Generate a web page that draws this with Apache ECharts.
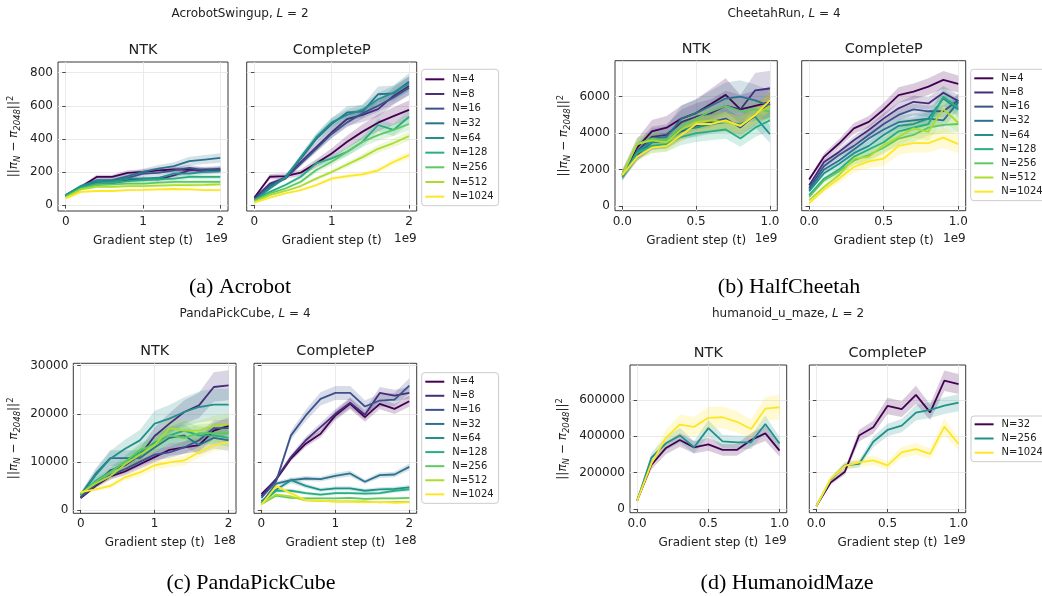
<!DOCTYPE html>
<html><head><meta charset="utf-8">
<script src="https://cdn.jsdelivr.net/npm/echarts@6/dist/echarts.min.js"></script>
<style>html,body{margin:0;padding:0;background:#fff}#c{width:1042px;height:596px}</style>
</head><body><div id="c"></div><script>
// ---------------- DATA ----------------
const labelsN9 = ['N=4','N=8','N=16','N=32','N=64','N=128','N=256','N=512','N=1024'];
const labelsN3 = ['N=32','N=256','N=1024'];

const stepsAcrobot = [0,0.2,0.4,0.6,0.8,1.0,1.2,1.4,1.6,1.8,2.0];   // x 1e9
const stepsCheetah = [0,0.1,0.2,0.3,0.4,0.5,0.6,0.7,0.8,0.9,1.0];   // x 1e9
const stepsPanda   = [0,0.2,0.4,0.6,0.8,1.0,1.2,1.4,1.6,1.8,2.0];   // x 1e8
const stepsHumanoid= [0,0.1,0.2,0.3,0.4,0.5,0.6,0.7,0.8,0.9,1.0];   // x 1e9

const acrobotNTK = [
  [55,110,170,170,195,200,210,215,215,205,210],
  [50,105,130,130,150,160,155,180,210,215,215],
  [55,110,140,145,165,190,195,210,225,210,220],
  [60,115,150,150,175,200,220,235,265,275,285],
  [60,115,145,145,160,160,165,190,190,200,205],
  [55,105,130,135,145,150,155,160,170,170,170],
  [50,100,120,125,130,130,135,140,140,140,140],
  [45,95,110,110,115,115,118,120,120,122,125],
  [40,80,85,85,90,92,95,97,95,90,90]
];
const acrobotCP = [
  [46,171,175,196,252,312,383,444,498,538,575],
  [40,130,165,260,350,440,520,545,580,660,720],
  [35,120,160,250,340,430,500,555,600,650,710],
  [30,110,170,280,400,490,560,565,670,675,745],
  [25,100,165,290,410,500,545,575,640,680,735],
  [30,80,121,171,252,282,322,383,484,454,534],
  [25,70,100,141,212,262,322,383,423,454,490],
  [20,60,85,115,160,200,245,290,340,375,417],
  [15,45,70,90,120,160,175,185,210,260,302]
];
const cheetahNTK = [
  [1750,3200,4100,4300,4800,5100,5600,6100,5300,5500,5700],
  [1700,3000,3800,3900,4600,4900,5100,5500,5300,6350,6450],
  [1700,2800,3500,3600,4100,4400,4600,4800,4300,5000,5600],
  [1650,2900,3700,3800,4800,5100,5500,5900,6000,5800,5500],
  [1600,3000,3500,3600,4200,4300,4500,4600,4500,4900,3950],
  [1600,2900,3300,3400,3800,4000,4100,4200,3700,4300,4700],
  [1700,3400,3700,3600,4400,4800,5200,5500,5200,5300,5200],
  [1750,3400,3600,3500,4200,4600,4700,4600,4400,5000,5500],
  [1700,2700,3200,3300,3900,4500,4500,4700,4400,5000,5800]
];
const cheetahCP = [
  [1450,2700,3430,4260,4620,5300,6090,6280,6550,6920,6700],
  [1140,2420,2970,3610,4170,4810,5360,5720,5630,6220,5760],
  [1000,2200,2800,3300,3900,4500,5000,5300,5200,5200,5800],
  [900,2000,2500,3100,3700,4200,4600,4700,4800,4700,5700],
  [800,1800,2300,2900,3300,3900,4400,4500,4800,5900,5300],
  [600,1500,2000,2700,3100,3500,4100,4300,4500,6000,5400],
  [500,1400,1900,2500,2800,3200,3700,3900,4300,4450,4500],
  [310,1050,1690,2600,2700,3340,3800,4260,4070,5320,4570],
  [150,900,1500,2150,2450,2600,3300,3450,3450,3750,3400]
];
const pandaNTK = [
  [2500,5000,7000,8000,9500,11000,12500,13000,13500,16500,17500],
  [2700,5470,8250,9290,11370,15380,17950,20370,21760,25570,25920],
  [2600,5200,7200,8500,10000,11500,12000,13000,14500,17000,17000],
  [3200,7500,10800,10800,10800,13000,15000,15500,13500,15000,14500],
  [3050,7200,10670,12750,14480,17950,18990,20370,21410,21900,21900],
  [3200,6000,8000,10000,12000,14000,15500,16500,15500,15500,15000],
  [3300,5800,7800,10000,12500,13500,15500,15000,16000,16000,16000],
  [3400,5500,7000,9500,11500,13500,17000,16500,16500,17500,17800],
  [3700,4300,5000,6800,7800,9300,9900,10300,12000,13500,14100]
];
const pandaCP = [
  [3310,6340,10690,13790,15860,19660,22070,19310,22070,21030,22620],
  [2900,6500,11000,14500,17240,20000,22300,19800,24340,23790,24340],
  [2500,6000,15520,19660,23100,24340,24340,21520,22760,22960,25860],
  [1400,5500,6200,6550,6410,7100,7590,5860,7240,7380,8970],
  [1800,4200,6200,5000,4200,4500,4500,4000,4300,4400,4700],
  [1500,4000,4000,3500,3200,3500,3500,3400,3500,4000,4280],
  [1200,3000,2500,2400,2400,2400,2500,2300,2400,2400,2500],
  [1300,3200,2800,2000,1900,1800,1800,1800,1600,1700,1700],
  [1030,4970,3450,2070,1930,1700,1700,1600,1700,1500,1590]
];
const humanoidNTK = [
  [45900,242000,334000,380000,339000,356000,325000,325000,380000,416000,321000],
  [45000,282000,360000,405000,340000,445000,372000,367000,367000,468000,360000],
  [45000,250000,390000,465000,452000,502000,505000,480000,440000,552000,560000]
];
const humanoidCP = [
  [16500,145000,205000,404000,450000,567000,550000,628000,532000,706000,688000],
  [16500,160000,240000,248000,370000,435000,459000,530000,545000,569000,585000],
  [16500,165000,237000,257000,268000,240000,312000,330000,303000,453000,358000]
];
// relative half-width of the shaded bands, per series
const spreadAcrobotNTK  = [0.08,0.08,0.08,0.1,0.08,0.08,0.08,0.08,0.08];
const spreadAcrobotCP   = [0.1,0.08,0.06,0.07,0.06,0.08,0.08,0.07,0.07];
const spreadCheetahNTK  = [0.15,0.15,0.12,0.15,0.12,0.12,0.1,0.12,0.1];
const spreadCheetahCP   = [0.07,0.06,0.06,0.08,0.08,0.08,0.1,0.12,0.15];
const spreadPandaNTK    = [0.1,0.12,0.1,0.15,0.15,0.12,0.12,0.12,0.1];
const spreadPandaCP     = [0.05,0.05,0.06,0.08,0.1,0.1,0.1,0.1,0.1];
const spreadHumanoidNTK = [0.1,0.1,0.12];
const spreadHumanoidCP  = [0.08,0.08,0.1];

const yTicksAcrobot  = [0,200,400,600,800];
const yTicksCheetah  = [0,2000,4000,6000];
const yTicksPanda    = [0,10000,20000,30000];
const yTicksHumanoid = [0,200000,400000,600000];
const xTicks2 = [0,1,2];
const xTicks1 = [0,0.5,1];

// ---------------- STYLE / LAYOUT ----------------
const colors9 = ['#440154','#472c7a','#3b528b','#2c728e','#21918c','#28ae80','#5ec962','#addc30','#fde725'];
const colors3 = ['#440154','#21918c','#fde725'];
const FONT = 'DejaVu Sans';
const INK = '#222';

const panels = [
  { title:'AcrobotSwingup, ', L:'2', titleXY:[240,14], caption:'(a) Acrobot', capXY:[240,287],
    xs:stepsAcrobot, xMin:-0.1, xMax:2.1, xTicks:xTicks2, xFmt:v=>String(Math.round(v)), offset:'1e9',
    yMin:-36, yMax:865, yTicks:yTicksAcrobot, names:labelsN9, colors:colors9,
    subs:[ {name:'NTK', data:acrobotNTK, spread:spreadAcrobotNTK, g:{left:58, top:62, width:170, height:149}},
           {name:'CompleteP', data:acrobotCP, spread:spreadAcrobotCP, g:{left:246.7, top:62, width:170, height:149}} ],
    yLabX:14, legend:{left:421.7, top:69.3, gap:2.67, pad:[4,5,3,3.6]} },
  { title:'CheetahRun, ', L:'4', titleXY:[784,14], caption:'(b) HalfCheetah', capXY:[789,287],
    xs:stepsCheetah, xMin:-0.05, xMax:1.05, xTicks:xTicks1, xFmt:v=>v.toFixed(1), offset:'1e9',
    yMin:-258, yMax:7976, yTicks:yTicksCheetah, names:labelsN9, colors:colors9,
    subs:[ {name:'NTK', data:cheetahNTK, spread:spreadCheetahNTK, g:{left:615, top:60.7, width:162.3, height:150}},
           {name:'CompleteP', data:cheetahCP, spread:spreadCheetahCP, g:{left:801.7, top:60.7, width:164, height:150}} ],
    yLabX:564, legend:{left:970.7, top:69.3, gap:2.17, pad:[3,4,3,3.6]} },
  { title:'PandaPickCube, ', L:'4', titleXY:[245,314], caption:'(c) PandaPickCube', capXY:[251,583],
    xs:stepsPanda, xMin:-0.1, xMax:2.1, xTicks:xTicks2, xFmt:v=>String(Math.round(v)), offset:'1e8',
    yMin:-690, yMax:30500, yTicks:yTicksPanda, names:labelsN9, colors:colors9,
    subs:[ {name:'NTK', data:pandaNTK, spread:spreadPandaNTK, g:{left:73.3, top:363.3, width:162.7, height:150}},
           {name:'CompleteP', data:pandaCP, spread:spreadPandaCP, g:{left:254, top:363.3, width:162.7, height:150}} ],
    yLabX:14, legend:{left:421.7, top:372.7, gap:2.08, pad:[3,5,3,3.6]} },
  { title:'humanoid_u_maze, ', L:'2', titleXY:[788,314], caption:'(d) HumanoidMaze', capXY:[787,583],
    xs:stepsHumanoid, xMin:-0.05, xMax:1.05, xTicks:xTicks1, xFmt:v=>v.toFixed(1), offset:'1e9',
    yMin:-20400, yMax:792600, yTicks:yTicksHumanoid, names:labelsN3.map(n=>n+' '), colors:colors3,
    subs:[ {name:'NTK', data:humanoidNTK, spread:spreadHumanoidNTK, g:{left:630, top:365, width:156.7, height:147.7}},
           {name:'CompleteP', data:humanoidCP, spread:spreadHumanoidCP, g:{left:809.3, top:365, width:156.4, height:147.7}} ],
    yLabX:563, legend:{left:971, top:416, gap:2.2, pad:[2.3,4,3,3.6]} }
];

function rgba(hex, a){
  const n = parseInt(hex.slice(1),16);
  return 'rgba('+((n>>16)&255)+','+((n>>8)&255)+','+(n&255)+','+a+')';
}

const grids=[], xAxes=[], yAxes=[], series=[], legends=[], graphics=[];
let gi = 0;
panels.forEach(p => {
  graphics.push({type:'text', x:p.titleXY[0], y:p.titleXY[1], silent:true,
    style:{text:p.title+'{i|L} = '+p.L, fill:INK, font:'12px "'+FONT+'"', align:'center', verticalAlign:'middle',
      rich:{i:{fontStyle:'italic', fontSize:12, fontFamily:FONT, fill:INK}}}});
  graphics.push({type:'text', x:p.capXY[0], y:p.capXY[1], silent:true,
    style:{text:p.caption, fill:'#000', font:'22px "Liberation Serif"', align:'center', verticalAlign:'middle'}});
  p.subs.forEach((s, si) => {
    const g = s.g;
    grids.push(Object.assign({show:true, borderColor:INK, borderWidth:0.9, backgroundColor:'transparent', containLabel:false}, g));
    xAxes.push({type:'value', gridIndex:gi, min:p.xMin, max:p.xMax,
      axisLine:{show:false},
      axisTick:{show:true, length:3.5, lineStyle:{color:INK, width:0.8}, customValues:p.xTicks},
      axisLabel:{show:true, customValues:p.xTicks, formatter:p.xFmt, color:INK, fontSize:12, fontFamily:FONT, margin:5},
      splitLine:{show:true, lineStyle:{color:'#e8e8e8', width:0.9}}});
    yAxes.push({type:'value', gridIndex:gi, min:p.yMin, max:p.yMax,
      axisLine:{show:false},
      axisTick:{show:true, length:3.5, lineStyle:{color:INK, width:0.8}, customValues:p.yTicks},
      axisLabel:{show:si===0, customValues:p.yTicks, formatter:v=>String(Math.round(v)), color:INK, fontSize:12, fontFamily:FONT, margin:5},
      splitLine:{show:true, lineStyle:{color:'#e8e8e8', width:0.9}}});
    const cx = g.left + g.width/2;
    graphics.push({type:'text', x:cx, y:g.top-11.7, silent:true,
      style:{text:s.name, fill:INK, font:'14.4px "'+FONT+'"', align:'center', verticalAlign:'middle'}});
    graphics.push({type:'text', x:cx, y:g.top+g.height+30, silent:true,
      style:{text:'Gradient step (t)', fill:INK, font:'12px "'+FONT+'"', align:'center', verticalAlign:'middle'}});
    graphics.push({type:'text', x:g.left+g.width, y:g.top+g.height+28, silent:true,
      style:{text:p.offset, fill:INK, font:'12px "'+FONT+'"', align:'right', verticalAlign:'middle'}});
    if (si===0){
      graphics.push({type:'text', x:p.yLabX, y:g.top+g.height/2, rotation:Math.PI/2, silent:true,
        style:{text:'{t|||}{p|π}{s|N}{t| − }{p|π}{s|2048}{t|||}{u|2}', align:'center', verticalAlign:'middle',
          rich:{ t:{fontSize:12, fontFamily:FONT, fill:INK, lineHeight:16, verticalAlign:'middle'},
                 p:{fontSize:12, fontFamily:FONT, fontStyle:'italic', fill:INK, lineHeight:16, verticalAlign:'middle'},
                 s:{fontSize:8.5, fontFamily:FONT, fontStyle:'italic', fill:INK, verticalAlign:'bottom', lineHeight:10},
                 u:{fontSize:8.5, fontFamily:FONT, fill:INK, verticalAlign:'top', lineHeight:10} }}});
    }
    s.data.forEach((vals, k) => {
      const col = p.colors[k];
      const sp = s.spread[k];
      const xs = p.xs;
      const pts = xs.map((x,i)=>[x, vals[i]]);
      series.push({type:'line', name:p.names[k], xAxisIndex:gi, yAxisIndex:gi, data:pts,
        showSymbol:false, symbol:'none', silent:true, color:col,
        lineStyle:{width:1.8, color:col}, itemStyle:{color:col}, z:2});
      series.push({type:'custom', name:'band'+gi+'_'+k, xAxisIndex:gi, yAxisIndex:gi, data:pts, silent:true, z:2,
        renderItem:(params, api) => {
          if (params.dataIndex !== 0) return null;
          const poly = [];
          for (let i=0;i<xs.length;i++) poly.push(api.coord([xs[i], vals[i]*(1+sp)]));
          for (let i=xs.length-1;i>=0;i--) poly.push(api.coord([xs[i], vals[i]*(1-sp)]));
          return {type:'polygon', shape:{points:poly}, style:{fill:rgba(col,0.2), stroke:null}};
        }});
    });
    gi++;
  });
  legends.push({orient:'vertical', left:p.legend.left, top:p.legend.top, data:p.names,
    icon:'rect', itemWidth:19, itemHeight:2, itemGap:p.legend.gap, padding:p.legend.pad,
    backgroundColor:'rgba(255,255,255,0.85)', borderColor:'#cccccc', borderWidth:1, borderRadius:3,
    selectedMode:false,
    textStyle:{fontSize:10, fontFamily:FONT, color:INK, lineHeight:12, padding:[0,0,0,3]}});
});

const chart = echarts.init(document.getElementById('c'), null, {renderer:'canvas'});
chart.setOption({animation:false, backgroundColor:'#fff', grid:grids, xAxis:xAxes, yAxis:yAxes,
  legend:legends, series:series, graphic:{elements:graphics}});
</script></body></html>
